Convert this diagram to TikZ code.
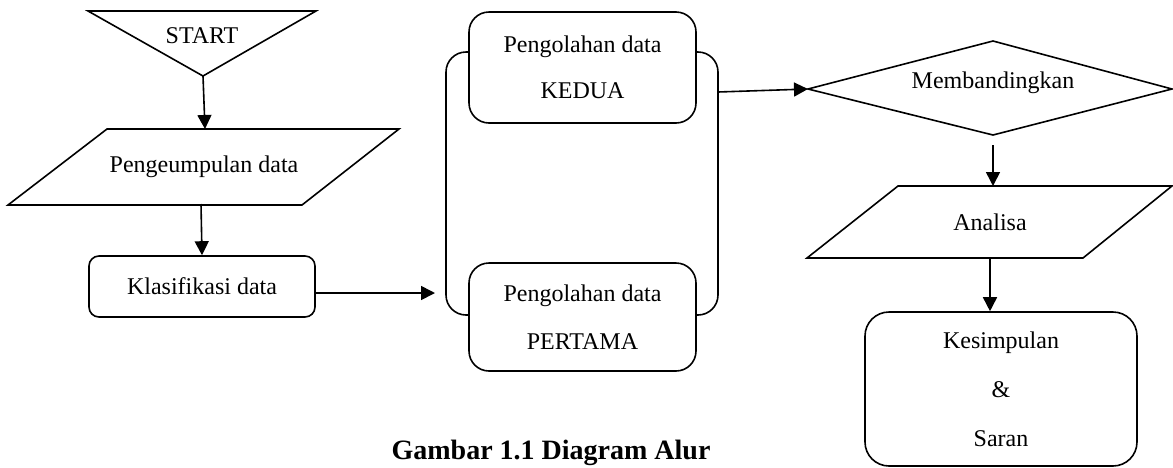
\documentclass[tikz,border=0pt]{standalone}
\usepackage{fontspec}
\setmainfont{Liberation Serif}
\usetikzlibrary{arrows.meta}

\begin{document}
\begin{tikzpicture}[x=0.5pt,y=-0.5pt,line width=0.8pt,
  panah/.style={-{Triangle[length=7pt,width=7pt]}},
  kotak/.style={draw,fill=white,rounded corners=#1,align=center,inner sep=0pt},
  teks/.style={font=\fontsize{12pt}{23pt}\selectfont}]
\useasboundingbox (0,0) rectangle (1173,467);
\coordinate (S1) at (88,11);
\coordinate (S2) at (316,11);
\coordinate (S3) at (203,76);
\draw (S1)--(S2)--(S3)--cycle;
\node[teks] (start) at (202,35.5) {START};

\coordinate (P1) at (107,129);
\coordinate (P2) at (399,129);
\coordinate (P3) at (302,205);
\coordinate (P4) at (8,205);
\draw (P1)--(P2)--(P3)--(P4)--cycle;
\node[teks] (kumpul) at (204,167) {Pengeumpulan data};
\coordinate (kumpulatas) at (205,129);
\coordinate (kumpulbawah) at (201,204);

\node[kotak=5pt,teks,minimum width=113pt,minimum height=30.5pt] (klas) at (202,286.5) {Klasifikasi data};

\draw[rounded corners=10pt] (446,52) rectangle (718,315);
\node[kotak=10pt,teks,minimum width=113.5pt,minimum height=55.5pt] (kedua) at (582.5,67.5) {Pengolahan data\\KEDUA};
\node[kotak=10pt,teks,minimum width=113.5pt,minimum height=54pt,font=\fontsize{12pt}{24pt}\selectfont] (pertama) at (582.5,317) {Pengolahan data\\PERTAMA};
\coordinate (masuk) at (435,293);
\coordinate (keluar) at (718,92);

\coordinate (D1) at (808,89);
\coordinate (D2) at (993,41);
\coordinate (D3) at (1172,89);
\coordinate (D4) at (993,135);
\draw (D1)--(D2)--(D3)--(D4)--cycle;
\node[teks] (banding) at (993,83) {Membandingkan};

\coordinate (A1) at (898,186);
\coordinate (A2) at (1172,186);
\coordinate (A3) at (1083,258);
\coordinate (A4) at (807,258);
\draw (A1)--(A2)--(A3)--(A4)--cycle;
\node[teks] (analisa) at (990,222) {Analisa};

\node[kotak=12pt,minimum width=136pt,minimum height=77pt,font=\fontsize{12pt}{24.5pt}\selectfont] (simpul) at (1001,389) {Kesimpulan\\\&\\Saran};

\draw[panah] (S3) -- (kumpulatas);
\draw[panah] (kumpulbawah) -- (klas.north);
\draw[panah] (klas.east |- masuk) -- (masuk);
\draw[panah] (keluar) -- (D1);
\draw[panah] ([yshift=-5pt]D4) -- (D4 |- A1);
\draw[panah] (analisa |- A3) -- (analisa |- simpul.north);

\node[font=\bfseries\fontsize{14pt}{16pt}\selectfont,anchor=base] (judul) at (551,459) {Gambar 1.1 Diagram Alur};
\end{tikzpicture}
\end{document}
